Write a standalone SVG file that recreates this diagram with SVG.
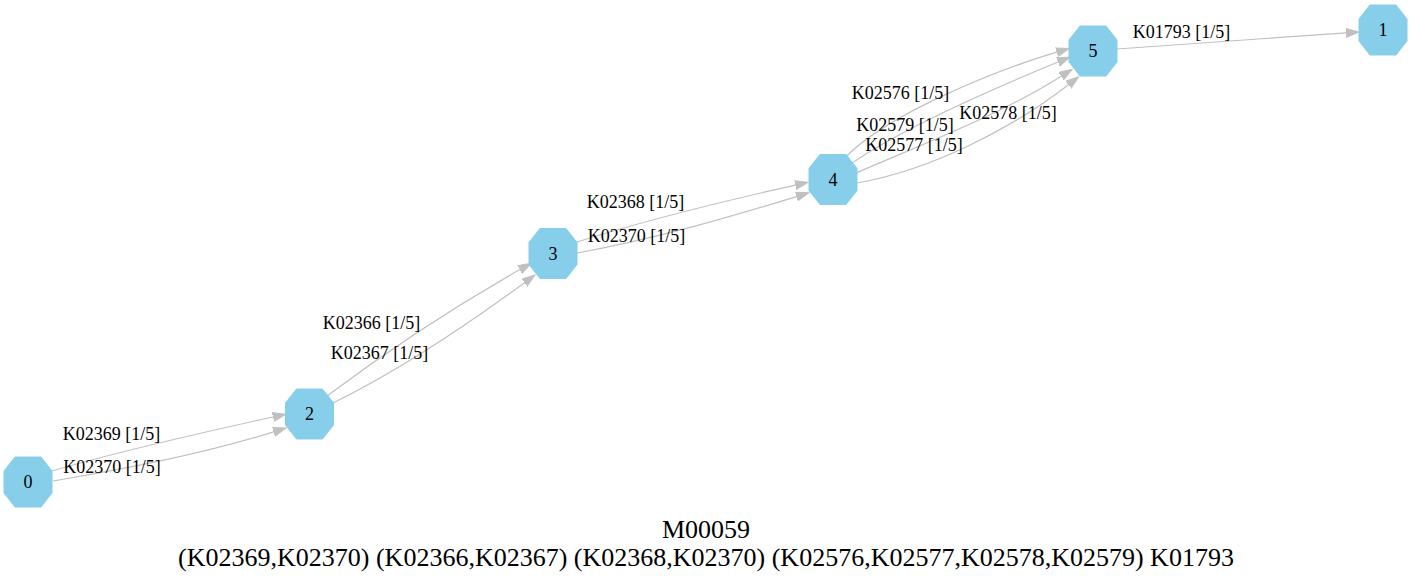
<svg xmlns="http://www.w3.org/2000/svg" width="1412" height="584" viewBox="0 0 1412 584">
  <style>
    .node-shape { fill: #87ceeb; stroke: #87ceeb; stroke-width: 1; }
    .node-label { font-family: "Liberation Serif", "Times New Roman", serif; font-size: 18px; fill: #000; text-anchor: middle; }
    .edge { fill: none; stroke: #c0c0c0; stroke-width: 1.2; marker-end: url(#arrow); }
    .edge-label { font-family: "Liberation Serif", "Times New Roman", serif; font-size: 18px; fill: #000; text-anchor: middle; }
    .title { font-family: "Liberation Serif", "Times New Roman", serif; font-size: 26px; fill: #000; text-anchor: middle; }
  </style>
  <defs>
    <polygon id="octagon" points="-13,-25 13,-25 24,-11 24,11 13,25 -13,25 -24,11 -24,-11"/>
    <marker id="arrow" markerUnits="userSpaceOnUse" markerWidth="14" markerHeight="10" refX="0" refY="5" orient="auto" viewBox="0 0 14 10">
      <path d="M0,0.5 L13,5 L0,9.5 z" fill="#c0c0c0" stroke="#c0c0c0" stroke-width="1"/>
    </marker>
  </defs>
  <rect width="1412" height="584" fill="#ffffff"/>

  <!-- connectors -->
  <g id="edges">
    <path class="edge" d="M52,471 C110,454 200,433 273,417"/>
    <path class="edge" d="M53,481 C120,470 200,455 273.6,431.9"/>
    <path class="edge" d="M327,396 C375,360 445,312 519.8,269.6"/>
    <path class="edge" d="M333,403 C390,375 460,330 524.5,282.7"/>
    <path class="edge" d="M577,242 C640,222 720,202 795.4,185.1"/>
    <path class="edge" d="M577,253 C650,240 720,220 796.5,196.6"/>
    <path class="edge" d="M845,158 C880,120 980,75 1056.7,52.2"/>
    <path class="edge" d="M852,163 C900,130 990,90 1058,62"/>
    <path class="edge" d="M856,173 C920,145 1000,115 1061.2,76.2"/>
    <path class="edge" d="M857,183 C930,170 1010,130 1068.4,84.7"/>
    <path class="edge" d="M1117,49 C1190,44 1270,38 1346,32.9"/>
  </g>

  <g id="edge-labels">
    <text class="edge-label" x="111.5" y="440">K02369 [1/5]</text>
    <text class="edge-label" x="112" y="473">K02370 [1/5]</text>
    <text class="edge-label" x="371.5" y="329">K02366 [1/5]</text>
    <text class="edge-label" x="379.5" y="359">K02367 [1/5]</text>
    <text class="edge-label" x="635.5" y="208">K02368 [1/5]</text>
    <text class="edge-label" x="636.5" y="242">K02370 [1/5]</text>
    <text class="edge-label" x="900.5" y="99">K02576 [1/5]</text>
    <text class="edge-label" x="905" y="131">K02579 [1/5]</text>
    <text class="edge-label" x="914" y="150.5">K02577 [1/5]</text>
    <text class="edge-label" x="1008" y="119">K02578 [1/5]</text>
    <text class="edge-label" x="1181.5" y="38">K01793 [1/5]</text>
  </g>

  <!-- nodes -->
  <g id="node0">
    <use href="#octagon" class="node-shape" x="28" y="482"/>
    <text class="node-label" x="28" y="488">0</text>
  </g>
  <g id="node2">
    <use href="#octagon" class="node-shape" x="309.5" y="414"/>
    <text class="node-label" x="309.5" y="420">2</text>
  </g>
  <g id="node3">
    <use href="#octagon" class="node-shape" x="553" y="253.5"/>
    <text class="node-label" x="553" y="259.5">3</text>
  </g>
  <g id="node4">
    <use href="#octagon" class="node-shape" x="833" y="179.5"/>
    <text class="node-label" x="833" y="185.5">4</text>
  </g>
  <g id="node5">
    <use href="#octagon" class="node-shape" x="1093" y="51"/>
    <text class="node-label" x="1093" y="57">5</text>
  </g>
  <g id="node1">
    <use href="#octagon" class="node-shape" x="1383" y="30"/>
    <text class="node-label" x="1383" y="36">1</text>
  </g>

  <!-- graph title -->
  <g id="title">
    <text class="title" x="706" y="538">M00059</text>
    <text class="title" x="706" y="566">(K02369,K02370) (K02366,K02367) (K02368,K02370) (K02576,K02577,K02578,K02579) K01793</text>
  </g>
</svg>
